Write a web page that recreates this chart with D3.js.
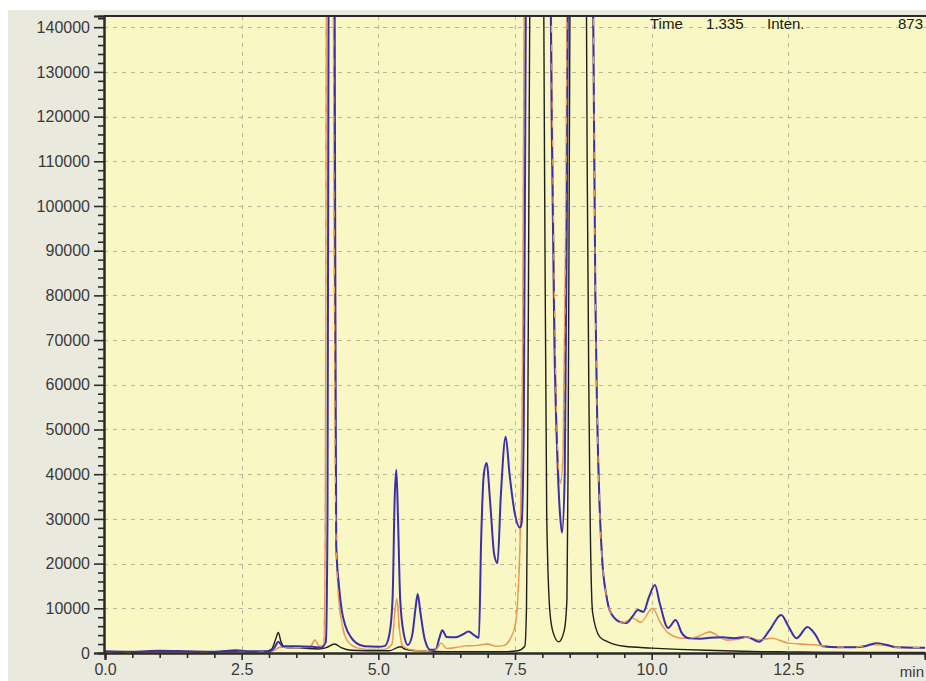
<!DOCTYPE html>
<html>
<head>
<meta charset="utf-8">
<script src="https://cdn.jsdelivr.net/npm/d3@7"></script>
<style>
  html, body { margin: 0; padding: 0; background: #ffffff; }
  svg { display: block; font-family: "Liberation Sans", Arial, sans-serif; }
</style>
</head>
<body>
<div id="chart"></div>
<script>
  // ---- data (time in min, intensity) ----
  const xTicks = [0, 2.5, 5.0, 7.5, 10.0, 12.5];
  const yTicks = [0, 10000, 20000, 30000, 40000, 50000, 60000, 70000,
                  80000, 90000, 100000, 110000, 120000, 130000, 140000];
  const headerLabels = ["Time", "1.335", "Inten.", "873"];

  const blackTrace = [
    [0, 300], [0.5, 200], [1.0, 400], [1.5, 200], [2.0, 300], [2.5, 300], [2.9, 300],
    [3.05, 900], [3.12, 3000], [3.17, 4600], [3.22, 2500], [3.3, 1200], [3.6, 1100],
    [3.9, 900], [4.05, 1200], [4.2, 2000], [4.32, 1200], [4.5, 600], [4.8, 500],
    [5.2, 500], [5.4, 1400], [5.5, 800], [5.8, 400], [6.2, 300], [6.8, 300], [7.3, 300],
    [7.55, 500], [7.68, 1500], [7.71, 10000], [7.73, 38000], [7.76, 120000],
    [7.85, 260000], [7.98, 240000], [8.04, 110000], [8.08, 31000], [8.14, 9000],
    [8.2, 4500], [8.3, 2500], [8.4, 5000], [8.45, 12000], [8.47, 40000], [8.5, 130000],
    [8.6, 270000], [8.76, 250000], [8.82, 110000], [8.85, 60000], [8.87, 35000],
    [8.92, 9000], [9.05, 3600], [9.2, 2500], [9.5, 1500], [10, 1100], [10.5, 800],
    [11, 600], [11.5, 450], [12, 300], [12.5, 250], [13, 200], [14, 150], [15, 150]
  ];

  const blueTrace = [
    [0, 400], [0.5, 300], [1.0, 500], [1.5, 400], [2.0, 300], [2.4, 600], [2.6, 400],
    [3.0, 400], [3.1, 1200], [3.17, 2500], [3.25, 1500], [3.5, 1500], [3.8, 1400],
    [3.95, 1200], [4.04, 2500], [4.07, 30000], [4.09, 150000], [4.13, 280000],
    [4.18, 240000], [4.21, 100000], [4.23, 24000], [4.28, 15000], [4.33, 9600],
    [4.4, 6000], [4.5, 3500], [4.6, 2200], [4.75, 1500], [5.0, 1400], [5.12, 1600],
    [5.2, 4000], [5.26, 12000], [5.3, 35000], [5.33, 41000], [5.36, 30000], [5.4, 12000],
    [5.47, 4000], [5.54, 1800], [5.62, 4000], [5.68, 10000], [5.72, 13200], [5.77, 9000],
    [5.85, 3000], [5.95, 700], [6.05, 800], [6.12, 3500], [6.17, 5100], [6.25, 3600],
    [6.4, 3500], [6.55, 4200], [6.65, 4800], [6.75, 4000], [6.84, 3400], [6.88, 25000],
    [6.93, 40000], [6.98, 42500], [7.05, 33000], [7.12, 22000], [7.18, 20100],
    [7.24, 35000], [7.33, 48400], [7.4, 40000], [7.5, 31000], [7.59, 28000],
    [7.62, 29000], [7.66, 50000], [7.7, 150000], [7.8, 290000], [8.0, 300000],
    [8.12, 200000], [8.17, 120000], [8.22, 70000], [8.28, 42000], [8.33, 30000],
    [8.36, 26900], [8.41, 40000], [8.45, 100000], [8.5, 220000], [8.7, 300000],
    [8.87, 260000], [8.92, 160000], [8.97, 80000], [9.0, 55000], [9.05, 32000],
    [9.1, 20000], [9.17, 13000], [9.23, 9600], [9.41, 7000], [9.54, 6700], [9.65, 8200],
    [9.75, 9600], [9.85, 9200], [9.95, 12500], [10.06, 15200], [10.15, 11000],
    [10.3, 5600], [10.44, 7400], [10.55, 4500], [10.68, 3300], [10.9, 3200], [11.06, 3400],
    [11.3, 3500], [11.5, 3300], [11.74, 3600], [11.97, 2500], [12.15, 5000], [12.37, 8500],
    [12.5, 6000], [12.65, 3300], [12.85, 5800], [13.0, 4000], [13.13, 1500], [13.4, 1300],
    [13.7, 1300], [13.9, 1500], [14.1, 2200], [14.3, 1800], [14.48, 1300], [14.8, 1200],
    [15, 1200]
  ];

  const orangeTrace = [
    [0, 100], [1, 100], [2, 100], [3, 200], [3.1, 600], [3.2, 1300], [3.5, 1200],
    [3.75, 1300], [3.84, 2900], [3.92, 1500], [4.0, 1800], [4.03, 30000], [4.05, 160000],
    [4.1, 280000], [4.16, 220000], [4.19, 100000], [4.22, 30000], [4.27, 13000],
    [4.33, 7000], [4.42, 3000], [4.6, 1200], [4.8, 800], [5.1, 800], [5.25, 2000],
    [5.3, 9000], [5.34, 12200], [5.38, 6000], [5.45, 1500], [5.6, 700], [5.9, 400],
    [6.05, 700], [6.15, 2200], [6.25, 1000], [6.4, 1200], [6.6, 1600], [6.8, 1700],
    [7.0, 2000], [7.15, 1500], [7.3, 1700], [7.4, 2900], [7.5, 6000], [7.55, 11900],
    [7.6, 30000], [7.64, 70000], [7.68, 180000], [7.85, 300000], [8.05, 280000],
    [8.15, 160000], [8.22, 80000], [8.28, 45000], [8.33, 38000], [8.38, 45000],
    [8.43, 100000], [8.5, 230000], [8.7, 300000], [8.88, 250000], [8.93, 150000],
    [8.97, 80000], [9.0, 55000], [9.05, 32000], [9.1, 20000], [9.17, 13000],
    [9.23, 9600], [9.41, 7000], [9.47, 6700], [9.65, 7800], [9.8, 6900], [10.02, 10000],
    [10.15, 7000], [10.3, 4500], [10.57, 3300], [10.8, 3500], [11.06, 4700],
    [11.37, 2900], [11.55, 3000], [11.74, 3600], [11.97, 2900], [12.2, 3300],
    [12.5, 2200], [13.0, 1800], [13.3, 1400], [13.7, 1300], [14.1, 1900], [14.5, 1300],
    [15, 1200]
  ];

  // ---- layout ----
  const width = 926, height = 681;
  const plot = { left: 104, top: 16, right: 926, bottom: 653 };

  const x = d3.scaleLinear().domain([0, 15]).range([105, 925]);
  const y = d3.scaleLinear().domain([0, 142500]).range([plot.bottom, plot.top]);

  const svg = d3.select("#chart").append("svg")
    .attr("width", width)
    .attr("height", height);

  // panel background
  svg.append("rect")
    .attr("x", 8).attr("y", 10)
    .attr("width", width - 8).attr("height", height - 10)
    .attr("fill", "#eae9dd");

  svg.append("rect")
    .attr("x", plot.left).attr("y", plot.top)
    .attr("width", plot.right - plot.left).attr("height", plot.bottom - plot.top)
    .attr("fill", "#f9f7c4");

  svg.append("clipPath").attr("id", "plotClip")
    .append("rect")
    .attr("x", plot.left).attr("y", plot.top)
    .attr("width", plot.right - plot.left).attr("height", plot.bottom - plot.top);

  // grid
  const grid = svg.append("g")
    .attr("stroke", "#b9b69c")
    .attr("stroke-width", 1)
    .attr("stroke-dasharray", "4,5");

  grid.selectAll("line.h")
    .data(yTicks.filter((d) => d > 0))
    .enter().append("line")
    .attr("class", "h")
    .attr("x1", plot.left).attr("x2", plot.right)
    .attr("y1", (d) => Math.round(y(d)) + 0.5)
    .attr("y2", (d) => Math.round(y(d)) + 0.5);

  grid.selectAll("line.v")
    .data(xTicks.filter((d) => d > 0))
    .enter().append("line")
    .attr("class", "v")
    .attr("y1", plot.top).attr("y2", plot.bottom)
    .attr("x1", (d) => Math.round(x(d)) + 0.5)
    .attr("x2", (d) => Math.round(x(d)) + 0.5);

  // header text
  const header = svg.append("g")
    .attr("font-size", "15px")
    .attr("fill", "#1a1a1a");
  const headerX = [650, 706, 767, 923];
  header.selectAll("text")
    .data(headerLabels)
    .enter().append("text")
    .attr("x", (d, i) => headerX[i])
    .attr("y", 29)
    .attr("text-anchor", (d, i) => (i === 3 ? "end" : "start"))
    .text((d) => d);

  // traces
  const line = d3.line()
    .x((d) => x(d[0]))
    .y((d) => y(d[1]))
    .curve(d3.curveMonotoneX);

  const traces = svg.append("g").attr("clip-path", "url(#plotClip)");

  traces.append("path")
    .attr("d", line(blackTrace))
    .attr("fill", "none")
    .attr("stroke", "#1e1e1e")
    .attr("stroke-width", 1.4);

  traces.append("path")
    .attr("d", line(orangeTrace))
    .attr("fill", "none")
    .attr("stroke", "#e99a52")
    .attr("stroke-width", 1.4);

  traces.append("path")
    .attr("d", line(blueTrace))
    .attr("fill", "none")
    .attr("stroke", "#3a30ac")
    .attr("stroke-width", 2);

  // orange dashes drawn over the blue where both coincide
  traces.append("path")
    .attr("d", line(orangeTrace))
    .attr("fill", "none")
    .attr("stroke", "#e99a52")
    .attr("stroke-width", 1.3)
    .attr("stroke-dasharray", "7,12");

  // frame / axes
  const frame = svg.append("g").attr("stroke", "#2b2b2b").attr("stroke-width", 2);
  frame.append("line")
    .attr("x1", plot.left).attr("x2", plot.right)
    .attr("y1", plot.top).attr("y2", plot.top);

  const yAxis = d3.axisLeft(y)
    .tickValues(yTicks)
    .tickSize(10)
    .tickPadding(4)
    .tickFormat(d3.format("d"));

  const yMinor = d3.axisLeft(y)
    .tickValues(d3.range(0, 142001, 2000).filter((d) => d % 10000 !== 0))
    .tickSize(6)
    .tickFormat("");

  const xAxis = d3.axisBottom(x)
    .tickValues(xTicks)
    .tickSize(7)
    .tickPadding(4)
    .tickFormat(d3.format(".1f"));

  const xMinor = d3.axisBottom(x)
    .tickValues(d3.range(0, 15.01, 0.5).filter((d) => d % 2.5 !== 0))
    .tickSize(5)
    .tickFormat("");

  function styleAxis(g) {
    g.select(".domain").attr("stroke", "#2b2b2b").attr("stroke-width", 2);
    g.selectAll(".tick line").attr("stroke", "#2b2b2b").attr("stroke-width", 1.6);
    g.selectAll(".tick text")
      .attr("fill", "#3a3a3a")
      .style("font-size", "16px")
      .style("font-family", "'Liberation Sans', Arial, sans-serif");
  }

  svg.append("g")
    .attr("transform", `translate(${plot.left},0)`)
    .call(yMinor)
    .call(styleAxis);

  svg.append("g")
    .attr("transform", `translate(${plot.left},0)`)
    .call(yAxis)
    .call(styleAxis);

  svg.append("g")
    .attr("transform", `translate(0,${plot.bottom})`)
    .call(xMinor)
    .call(styleAxis);

  svg.append("g")
    .attr("transform", `translate(0,${plot.bottom})`)
    .call(xAxis)
    .call(styleAxis);

  svg.append("text")
    .attr("x", 924)
    .attr("y", 677)
    .attr("text-anchor", "end")
    .attr("fill", "#3a3a3a")
    .attr("font-size", "15px")
    .text("min");
</script>
</body>
</html>
